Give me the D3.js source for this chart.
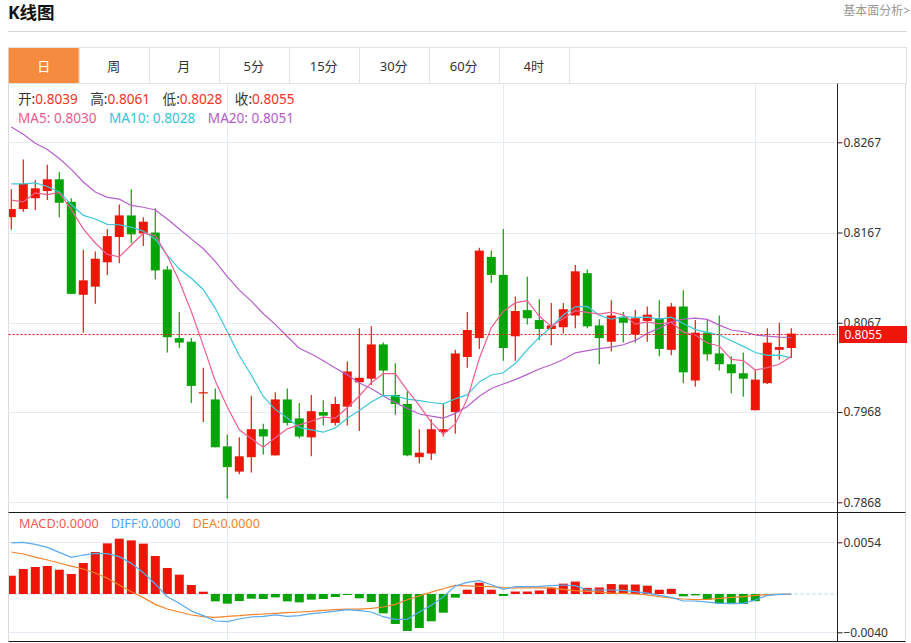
<!DOCTYPE html>
<html>
<head>
<meta charset="utf-8">
<script src="https://cdn.jsdelivr.net/npm/d3@7"></script>
<style>
  body { margin: 0; background: #fff; }
  svg text { font-family: "Noto Sans", "Noto Sans CJK SC", sans-serif; }
</style>
</head>
<body>
<div id="chart"></div>
<script>
// Tabs above the chart
const tabs = ["日", "周", "月", "5分", "15分", "30分", "60分", "4时"];

// Daily candles
const opens = [0.8184, 0.8193, 0.8205, 0.8213, 0.8226, 0.8201, 0.8098, 0.8107, 0.8134, 0.8162,
  0.8186, 0.8166, 0.8167, 0.8126, 0.8050, 0.8046, 0.7989, 0.7982, 0.7930, 0.7902,
  0.7918, 0.7949, 0.7920, 0.7982, 0.7961, 0.7940, 0.7968, 0.7956, 0.7974, 0.8001,
  0.8005, 0.8043, 0.7987, 0.7977, 0.7918, 0.7922, 0.7946, 0.7968, 0.8029, 0.8050,
  0.8140, 0.8120, 0.8052, 0.8081, 0.8070, 0.8060, 0.8062, 0.8075, 0.8122, 0.8064,
  0.8046, 0.8073, 0.8054, 0.8069, 0.8072, 0.8037, 0.8085, 0.8003, 0.8056, 0.8033,
  0.8021, 0.8011, 0.7970, 0.8000, 0.8037, 0.8039];
const highs = [0.8215, 0.8248, 0.8225, 0.8242, 0.8234, 0.8205, 0.8148, 0.8146, 0.8171, 0.8198,
  0.8215, 0.8184, 0.8194, 0.8130, 0.8079, 0.8050, 0.8017, 0.7994, 0.7943, 0.7940,
  0.7986, 0.7955, 0.7990, 0.7994, 0.7978, 0.7987, 0.7981, 0.7985, 0.8024, 0.8061,
  0.8063, 0.8045, 0.8022, 0.7991, 0.7949, 0.7960, 0.7977, 0.8037, 0.8079, 0.8150,
  0.8147, 0.8171, 0.8096, 0.8118, 0.8093, 0.8089, 0.8089, 0.8131, 0.8126, 0.8071,
  0.8092, 0.8079, 0.8081, 0.8085, 0.8092, 0.8089, 0.8103, 0.8070, 0.8071, 0.8075,
  0.8030, 0.8034, 0.8015, 0.8061, 0.8067, 0.8061];
const lows = [0.8170, 0.8190, 0.8192, 0.8203, 0.8184, 0.8099, 0.8056, 0.8088, 0.8120, 0.8133,
  0.8155, 0.8152, 0.8115, 0.8034, 0.8039, 0.7978, 0.7957, 0.7929, 0.7872, 0.7899,
  0.7901, 0.7921, 0.7920, 0.7953, 0.7939, 0.7919, 0.7953, 0.7953, 0.7953, 0.7947,
  0.7998, 0.7987, 0.7965, 0.7919, 0.7911, 0.7915, 0.7941, 0.7944, 0.8017, 0.8038,
  0.8111, 0.8025, 0.8025, 0.8065, 0.8048, 0.8042, 0.8055, 0.8061, 0.8061, 0.8021,
  0.8035, 0.8045, 0.8045, 0.8046, 0.8030, 0.8031, 0.8000, 0.7996, 0.8025, 0.8014,
  0.7989, 0.7985, 0.7970, 0.7999, 0.8026, 0.8028];
const closes = [0.8193, 0.8221, 0.8216, 0.8226, 0.8200, 0.8099, 0.8114, 0.8138, 0.8163, 0.8186,
  0.8165, 0.8179, 0.8125, 0.8051, 0.8045, 0.7997, 0.7990, 0.7929, 0.7907, 0.7919,
  0.7949, 0.7941, 0.7982, 0.7956, 0.7941, 0.7969, 0.7964, 0.7977, 0.8013, 0.8006,
  0.8043, 0.8014, 0.7977, 0.7920, 0.7923, 0.7949, 0.7949, 0.8033, 0.8059, 0.8147,
  0.8120, 0.8039, 0.8080, 0.8072, 0.8060, 0.8064, 0.8082, 0.8124, 0.8063, 0.8050,
  0.8075, 0.8067, 0.8072, 0.8076, 0.8038, 0.8085, 0.8012, 0.8056, 0.8032, 0.8021,
  0.8011, 0.8005, 0.8004, 0.8045, 0.8040, 0.8055];

// Moving-average values at the left edge (history before the window is not shown)
const ma5Head = [0.8203, 0.8201, 0.8211, 0.8209];
const ma10Head = [0.8221, 0.8221, 0.8222, 0.8218, 0.8212, 0.8198, 0.8186, 0.8182, 0.8176];
const ma20Head = [0.8284, 0.8276, 0.8266, 0.8259, 0.8249, 0.8237, 0.8223, 0.8212, 0.8206, 0.8204,
  0.8197, 0.8195, 0.8192, 0.8182, 0.8171, 0.8160, 0.8149, 0.8135, 0.8118];

// MACD panel
const diff = [0.00533, 0.0054, 0.00519, 0.00487, 0.00435, 0.00383, 0.00407, 0.00425, 0.00421, 0.0039,
  0.0032, 0.00223, 0.00104, -0.00028, -0.00097, -0.00178, -0.00226, -0.00282, -0.00289, -0.00261,
  -0.0024, -0.00233, -0.00219, -0.00233, -0.00226, -0.00205, -0.00195, -0.00178, -0.00164, -0.00174,
  -0.00188, -0.00237, -0.00265, -0.00265, -0.00188, -0.00118, -0.0003, 0.00084, 0.00122, 0.00139,
  0.00097, 0.00049, 0.00077, 0.00077, 0.0008, 0.00087, 0.00094, 0.00087, 0.00042, 0.00042,
  0.00042, 0.00038, 0.00024, 0.0001, -0.00014, -0.00035, -0.00073, -0.00073, -0.00084, -0.00097,
  -0.00097, -0.00097, -0.00063, -0.00014, -0.00003, 0];
const dea = [0.00439, 0.00418, 0.00386, 0.00355, 0.00324, 0.00292, 0.00261, 0.00219, 0.00164, 0.00094,
  0.00024, -0.00038, -0.00108, -0.00157, -0.00188, -0.00219, -0.00237, -0.00244, -0.00233, -0.00226,
  -0.00216, -0.00209, -0.00202, -0.00195, -0.00188, -0.00181, -0.00171, -0.00164, -0.00157, -0.00157,
  -0.0015, -0.00136, -0.00108, -0.0006, -0.0002, 0.0002, 0.00055, 0.0009, 0.00084, 0.0008,
  0.00077, 0.00066, 0.00063, 0.00063, 0.00063, 0.00063, 0.00049, 0.00035, 0.00028, 0.00021,
  0.0001, 0.00007, 0, -0.0001, -0.00028, -0.00042, -0.00052, -0.00059, -0.00056, -0.00045,
  -0.00035, -0.00028, -0.00014, -0.00007, -0.00003, 0];
const macdBars = [0.00191, 0.00261, 0.00282, 0.00292, 0.00254, 0.00209, 0.00324, 0.00439, 0.00529, 0.00578,
  0.0056, 0.00526, 0.00397, 0.00272, 0.00202, 0.00094, 0.00024, -0.00077, -0.00101, -0.00073,
  -0.00049, -0.00052, -0.00035, -0.00077, -0.00087, -0.00059, -0.00052, -0.00031, -0.0001, -0.00045,
  -0.00084, -0.00202, -0.00313, -0.00386, -0.00355, -0.00285, -0.00195, -0.00038, 0.00045, 0.00118,
  0.00045, -0.00021, 0.00026, 0.00026, 0.00037, 0.00066, 0.00108, 0.0013, 0.00064, 0.00068,
  0.00104, 0.00099, 0.00099, 0.00087, 0.00045, 0.00054, -0.00024, -0.00014, -0.0006, -0.00099,
  -0.00106, -0.00104, -0.00075, -0.0001, -0.00005, 0];

// Axis ticks and month gridlines (candle index)
const priceTicks = [0.7868, 0.7968, 0.8067, 0.8167, 0.8267];
const macdTicks = [-0.0040, 0.0054];
const gridIdx = [18, 41, 62];

const width = 911, height = 643;
const plotLeft = 8.5, plotRight = 837.5, frameRight = 905.5;
const mainTop = 83.5, macdTop = 512.5, macdBottom = 641.5;

const red = "#f01509", green = "#05a405";
const gridColor = "#e4ebf2";

let svg = d3.select("#chart")
  .append("svg")
  .attr("width", width)
  .attr("height", height)
  .style("background", "white");

// Title and link
svg.append("text")
  .attr("x", 8)
  .attr("y", 19)
  .style("font-size", "17.5px")
  .style("font-weight", "bold")
  .attr("fill", "#111")
  .text("K线图");

svg.append("text")
  .attr("x", 910)
  .attr("y", 15)
  .attr("text-anchor", "end")
  .style("font-size", "12px")
  .attr("fill", "#999")
  .text("基本面分析>");

svg.append("line")
  .attr("x1", 8).attr("x2", 907)
  .attr("y1", 31.5).attr("y2", 31.5)
  .attr("stroke", "#d8d8d8");

// Tab bar
const tabScale = d3.scaleBand()
  .domain(tabs)
  .range([8.7, 8.7 + 70 * tabs.length]);

svg.append("rect")
  .attr("x", 8.5).attr("y", 47.5)
  .attr("width", 898).attr("height", 36)
  .attr("fill", "none")
  .attr("stroke", "#e2e2e2");

svg.append("rect")
  .attr("x", tabScale(tabs[0])).attr("y", 48)
  .attr("width", tabScale.bandwidth()).attr("height", 35)
  .attr("fill", "#f48b3e");

tabs.forEach((t, i) => {
  const tx = tabScale(t);
  svg.append("line")
    .attr("x1", Math.round(tx + tabScale.bandwidth()) + 0.5)
    .attr("x2", Math.round(tx + tabScale.bandwidth()) + 0.5)
    .attr("y1", 47.5).attr("y2", 83.5)
    .attr("stroke", "#e2e2e2");
  svg.append("text")
    .attr("x", tx + tabScale.bandwidth() / 2)
    .attr("y", 66)
    .attr("dy", "0.35em")
    .attr("text-anchor", "middle")
    .style("font-size", "13px")
    .attr("fill", i === 0 ? "#fff" : "#333")
    .text(t);
});

// Scales
const x = d3.scaleLinear()
  .domain([0, closes.length - 1])
  .range([11.3, 11.3 + 12 * (closes.length - 1)]);
const y = d3.scaleLinear()
  .domain([0.7868, 0.8267])
  .range([502.3, 142.3]);
const ym = d3.scaleLinear()
  .domain([-0.0040, 0.0054])
  .range([632.3, 542.3]);
const bodyW = 9;

// Frame
[plotLeft, frameRight].forEach(fx => {
  svg.append("line")
    .attr("x1", fx).attr("x2", fx)
    .attr("y1", mainTop).attr("y2", macdBottom)
    .attr("stroke", "#dcdcdc");
});

// Gridlines
svg.selectAll(".hgrid")
  .data(priceTicks)
  .enter()
  .append("line")
  .attr("x1", plotLeft).attr("x2", plotRight)
  .attr("y1", d => Math.round(y(d)) + 0.5)
  .attr("y2", d => Math.round(y(d)) + 0.5)
  .attr("stroke", gridColor);

svg.selectAll(".mgrid")
  .data(macdTicks)
  .enter()
  .append("line")
  .attr("x1", plotLeft).attr("x2", plotRight)
  .attr("y1", d => Math.round(ym(d)) + 0.5)
  .attr("y2", d => Math.round(ym(d)) + 0.5)
  .attr("stroke", gridColor);

svg.selectAll(".vgrid")
  .data(gridIdx)
  .enter()
  .append("line")
  .attr("x1", d => Math.round(x(d)) + 0.5)
  .attr("x2", d => Math.round(x(d)) + 0.5)
  .attr("y1", mainTop).attr("y2", macdBottom)
  .attr("stroke", gridColor);

// Clip for plot area
svg.append("clipPath").attr("id", "plotClip")
  .append("rect")
  .attr("x", plotLeft + 0.5).attr("y", mainTop)
  .attr("width", plotRight - plotLeft - 1).attr("height", macdBottom - mainTop);

const plot = svg.append("g").attr("clip-path", "url(#plotClip)");

// Candles
const candles = closes.map((c, i) => ({ i, o: opens[i], h: highs[i], l: lows[i], c }));

plot.selectAll(".wick")
  .data(candles)
  .enter()
  .append("line")
  .attr("x1", d => x(d.i)).attr("x2", d => x(d.i))
  .attr("y1", d => y(d.h)).attr("y2", d => y(d.l))
  .attr("stroke", d => d.c >= d.o ? red : green)
  .attr("stroke-width", 1.2);

plot.selectAll(".body")
  .data(candles)
  .enter()
  .append("rect")
  .attr("x", d => x(d.i) - bodyW / 2)
  .attr("y", d => y(Math.max(d.o, d.c)))
  .attr("width", bodyW)
  .attr("height", d => Math.max(1.2, Math.abs(y(d.o) - y(d.c))))
  .attr("fill", d => d.c >= d.o ? red : green);

// Moving averages
function movingAvg(period, head) {
  return closes.map((c, i) => {
    if (i < period - 1) return head[i];
    return d3.mean(closes.slice(i - period + 1, i + 1));
  });
}
const ma5 = movingAvg(5, ma5Head);
const ma10 = movingAvg(10, ma10Head);
const ma20 = movingAvg(20, ma20Head);

const maLine = d3.line()
  .x((d, i) => x(i))
  .y(d => y(d));

[[ma20, "#b660cc"], [ma10, "#3ec7dc"], [ma5, "#ef5f8f"]].forEach(([s, col]) => {
  plot.append("path")
    .datum(s)
    .attr("d", maLine)
    .attr("fill", "none")
    .attr("stroke", col)
    .attr("stroke-width", 1.2);
});

// Last price line
const last = candles[candles.length - 1];
const lastY = Math.round(y(last.c)) + 0.5;
svg.append("line")
  .attr("x1", plotLeft).attr("x2", plotRight)
  .attr("y1", lastY).attr("y2", lastY)
  .attr("stroke", red)
  .attr("stroke-dasharray", "2,2");

// MACD zero line
plot.append("line")
  .attr("x1", plotLeft).attr("x2", plotRight)
  .attr("y1", ym(0)).attr("y2", ym(0))
  .attr("stroke", "#a9d6ee")
  .attr("stroke-dasharray", "3,3");

plot.selectAll(".macdbar")
  .data(macdBars)
  .enter()
  .append("rect")
  .attr("x", (d, i) => x(i) - bodyW / 2)
  .attr("y", d => Math.min(ym(d), ym(0)))
  .attr("width", bodyW)
  .attr("height", d => Math.abs(ym(d) - ym(0)))
  .attr("fill", d => d >= 0 ? red : green);

const macdLine = d3.line()
  .x((d, i) => x(i))
  .y(d => ym(d));

plot.append("path").datum(dea).attr("d", macdLine)
  .attr("fill", "none").attr("stroke", "#f7842c").attr("stroke-width", 1.2);
plot.append("path").datum(diff).attr("d", macdLine)
  .attr("fill", "none").attr("stroke", "#58aaf3").attr("stroke-width", 1.2);

// Panel separators
[macdTop, macdBottom].forEach(ly => {
  svg.append("line")
    .attr("x1", plotLeft).attr("x2", frameRight)
    .attr("y1", ly).attr("y2", ly)
    .attr("stroke", "#1a1a1a");
});

// Right axis
svg.append("line")
  .attr("x1", plotRight).attr("x2", plotRight)
  .attr("y1", mainTop).attr("y2", macdBottom)
  .attr("stroke", "#222");

const axisMain = svg.append("g")
  .attr("transform", `translate(${plotRight},0)`)
  .call(d3.axisRight(y).tickValues(priceTicks).tickSize(5).tickFormat(d3.format(".4f")));
const axisMacd = svg.append("g")
  .attr("transform", `translate(${plotRight},0)`)
  .call(d3.axisRight(ym).tickValues(macdTicks).tickSize(5).tickFormat(d3.format(".4f")));
[axisMain, axisMacd].forEach(a => {
  a.select(".domain").remove();
  a.selectAll("line").attr("stroke", "#222");
  a.selectAll("text")
    .attr("x", 6)
    .attr("fill", "#333")
    .style("font-size", "12px")
    .style("font-family", "'Noto Sans', sans-serif");
});

// Last price tag (covers the lower part of the nearby tick label, as in the original)
svg.append("rect")
  .attr("x", plotRight + 1.5)
  .attr("y", lastY - 8.5)
  .attr("width", 68)
  .attr("height", 17)
  .attr("fill", red);
svg.append("text")
  .attr("x", plotRight + 7)
  .attr("y", lastY)
  .attr("dy", "0.35em")
  .attr("fill", "#fff")
  .style("font-size", "12px")
  .text(last.c.toFixed(4));

// Legends
function legendRow(items, lx, ly, size, gap) {
  let cx = lx;
  items.forEach(it => {
    const t = svg.append("text")
      .attr("x", cx).attr("y", ly)
      .style("font-size", size + "px");
    t.append("tspan").attr("fill", it.lc).text(it.label);
    t.append("tspan").attr("fill", it.vc).text(it.value);
    cx += t.node().getComputedTextLength() + gap;
  });
}
const fmt = v => v.toFixed(4);
const n = closes.length - 1;
legendRow([
  { label: "开:", value: fmt(last.o), lc: "#333", vc: "#f0321f" },
  { label: "高:", value: fmt(last.h), lc: "#333", vc: "#f0321f" },
  { label: "低:", value: fmt(last.l), lc: "#333", vc: "#f0321f" },
  { label: "收:", value: fmt(last.c), lc: "#333", vc: "#f0321f" }
], 18, 104, 13.6, 12.5);
legendRow([
  { label: "MA5: ", value: fmt(ma5[n]), lc: "#ec5b8b", vc: "#ec5b8b" },
  { label: "MA10: ", value: fmt(ma10[n]), lc: "#34c3da", vc: "#34c3da" },
  { label: "MA20: ", value: fmt(ma20[n]), lc: "#b25dc8", vc: "#b25dc8" }
], 18, 122.5, 13.6, 12.5);
legendRow([
  { label: "MACD:", value: fmt(Math.abs(macdBars[n])), lc: "#f25a55", vc: "#f25a55" },
  { label: "DIFF:", value: fmt(Math.abs(diff[n])), lc: "#4ea6f0", vc: "#4ea6f0" },
  { label: "DEA:", value: fmt(Math.abs(dea[n])), lc: "#f5822e", vc: "#f5822e" }
], 19, 528, 12.7, 12);
</script>
</body>
</html>
